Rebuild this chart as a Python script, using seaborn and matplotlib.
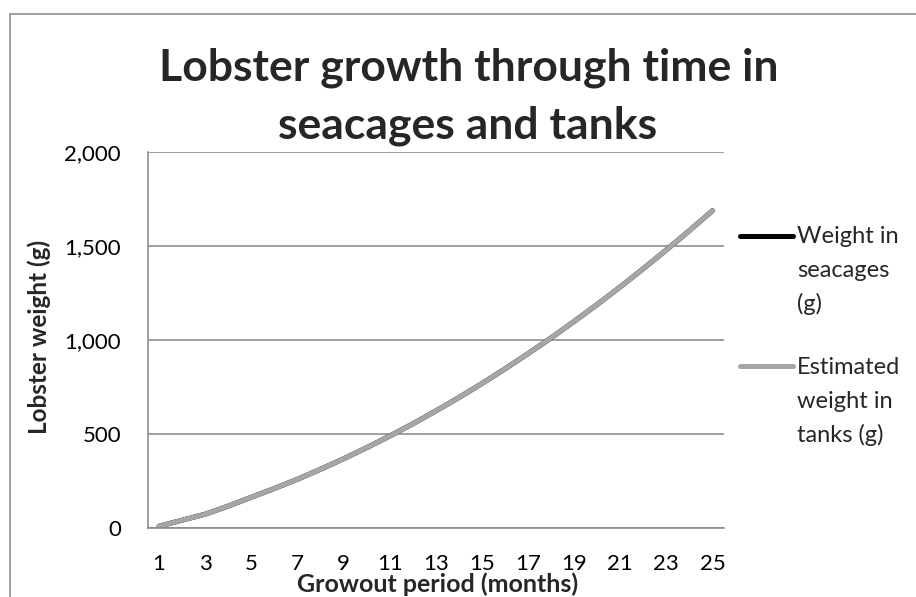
import numpy as np
import pandas as pd
import matplotlib
matplotlib.use('Agg')
import matplotlib.pyplot as plt
import seaborn as sns
from matplotlib.lines import Line2D
from matplotlib.patches import Rectangle

# values
months = list(range(1, 26))
seacage_weight = [8, 40, 72, 115, 162, 209, 258, 311, 367, 426, 488, 553, 622,
                  693, 768, 846, 927, 1011, 1099, 1189, 1283, 1380, 1480, 1583, 1689]
tank_weight = [8, 40, 72, 115, 162, 209, 258, 311, 367, 426, 488, 553, 622,
               693, 768, 846, 927, 1011, 1099, 1189, 1283, 1380, 1480, 1583, 1689]
series_names = ['Weight in\nseacages\n(g)', 'Estimated\nweight in\ntanks (g)']
series_colors = ['#000000', '#a6a6a6']
y_ticks = [0, 500, 1000, 1500, 2000]
x_ticks = months[::2]

W, H = 916, 597
GRID = '#868686'

sns.set_theme(style='white')
plt.rcParams['font.family'] = ['Lato', 'DejaVu Sans']


def px(x, y):
    """pixel position (from top-left) -> figure fraction"""
    return x / W, 1 - y / H


fig = plt.figure(figsize=(W / 100, H / 100), dpi=100)
fig.patch.set_facecolor('white')
left, bottom = px(147.5, 527.7)
right, top = px(724, 152.3)
ax = fig.add_axes([left, bottom, right - left, top - bottom])

df = pd.DataFrame({
    'month': months * 2,
    'weight': seacage_weight + tank_weight,
    'series': [series_names[0]] * len(months) + [series_names[1]] * len(months),
})
sns.lineplot(data=df, x='month', y='weight', hue='series', palette=series_colors,
             linewidth=3.6, solid_capstyle='round', legend=False, ax=ax)

ax.set_xlim(0.5, 25.5)
ax.set_ylim(0, 2000)
ax.set_xticks(x_ticks)
ax.set_yticks(y_ticks)
ax.set_yticklabels([f'{v:,}' for v in y_ticks])
ax.set_xlabel('')
ax.set_ylabel('')
ax.yaxis.grid(True, color=GRID, linewidth=1.1)
ax.set_axisbelow(True)
for side in ['top', 'right']:
    ax.spines[side].set_visible(False)
for side in ['left', 'bottom']:
    ax.spines[side].set_color(GRID)
    ax.spines[side].set_linewidth(1.1)
ax.tick_params(axis='both', length=0, labelsize=16, colors='black')
ax.tick_params(axis='y', pad=19)
ax.tick_params(axis='x', pad=19)

# title in two lines
fig.text(*px(469, 80), 'Lobster growth through time in', ha='center', va='baseline',
         fontsize=32, fontweight='bold')
fig.text(*px(468, 138), 'seacages and tanks', ha='center', va='baseline',
         fontsize=32, fontweight='bold')

# axis titles
fig.text(*px(437.5, 592), 'Growout period (months)', ha='center', va='baseline',
         fontsize=18, fontweight='bold')
fig.text(*px(47, 337), 'Lobster weight (g)', ha='center', va='baseline', rotation=90,
         rotation_mode='anchor', fontsize=17.5, fontweight='bold')

# legend, Excel style with wrapped entries
for name, color, ly in zip(series_names, series_colors, [235.7, 366]):
    x0, y0 = px(740, ly)
    x1, _ = px(793, ly)
    fig.add_artist(Line2D([x0, x1], [y0, y0], color=color, linewidth=3.6,
                          solid_capstyle='round', transform=fig.transFigure))
    for k, line in enumerate(name.split('\n')):
        fig.text(*px(797, ly + 7.7 + k * 34), line, ha='left', va='baseline', fontsize=17)

# outer chart border
bx, by = px(10, 14)
fig.add_artist(Rectangle((bx, -0.1), 1.2, by + 0.1, fill=False, edgecolor=GRID,
                         linewidth=1.1, transform=fig.transFigure, clip_on=False))

fig.savefig('out.png', dpi=100)
